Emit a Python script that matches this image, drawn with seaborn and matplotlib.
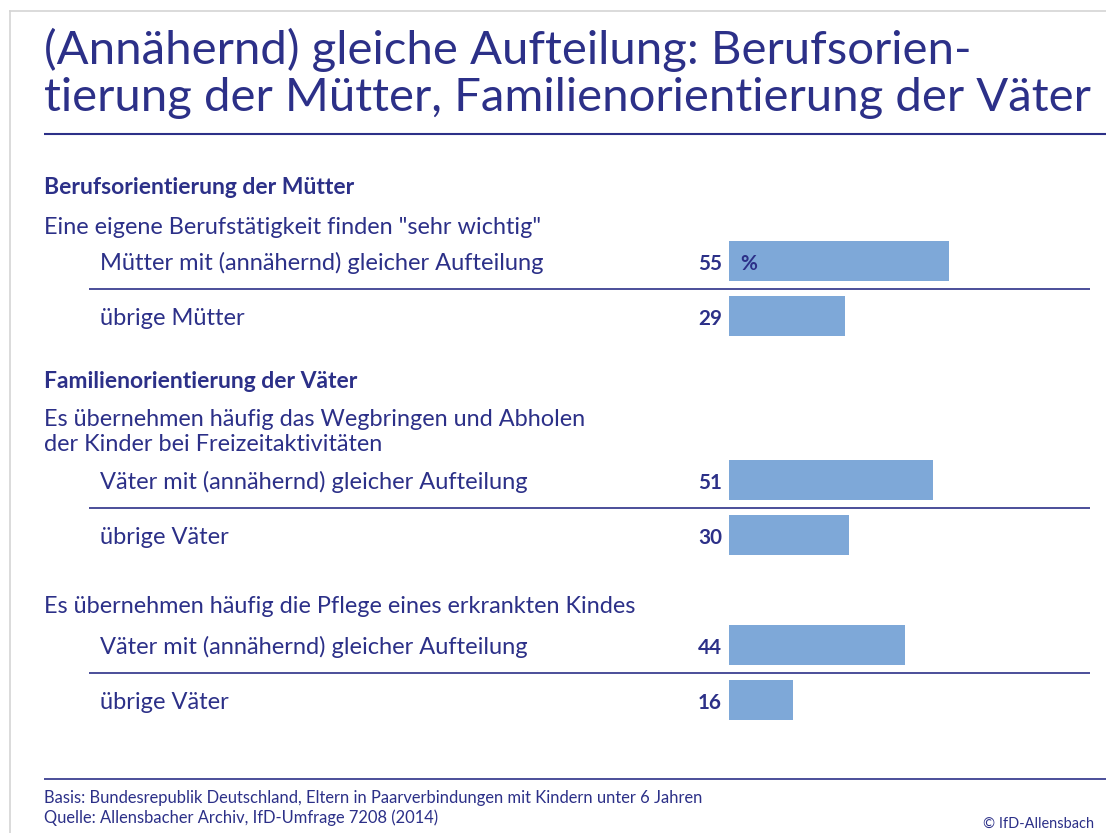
import matplotlib
matplotlib.use("Agg")
import matplotlib.pyplot as plt
from matplotlib import font_manager
from matplotlib.lines import Line2D
import seaborn as sns
import pandas as pd

# ---------------- data ----------------
title_lines = ["(Annähernd) gleiche Aufteilung: Berufsorien-",
               "tierung der Mütter, Familienorientierung der Väter"]
section_headings = ["Berufsorientierung der Mütter", "Familienorientierung der Väter"]
questions = ['Eine eigene Berufstätigkeit finden "sehr wichtig"',
             "Es übernehmen häufig das Wegbringen und Abholen\nder Kinder bei Freizeitaktivitäten",
             "Es übernehmen häufig die Pflege eines erkrankten Kindes"]
group1_labels = ["Mütter mit (annähernd) gleicher Aufteilung", "übrige Mütter"]
group1_values = [55, 29]
group2_labels = ["Väter mit (annähernd) gleicher Aufteilung", "übrige Väter"]
group2_values = [51, 30]
group3_labels = ["Väter mit (annähernd) gleicher Aufteilung", "übrige Väter"]
group3_values = [44, 16]
unit_label = "%"
footnotes = ["Basis: Bundesrepublik Deutschland, Eltern in Paarverbindungen mit Kindern unter 6 Jahren",
             "Quelle: Allensbacher Archiv, IfD-Umfrage 7208 (2014)"]
copyright_text = "© IfD-Allensbach"

# ---------------- style ----------------
W, H = 1106, 833
DARK = "#2c3088"
BAR = "#7ea8d8"
GREY = "#d4d4d4"

sns.set_theme(style="white")
names = {f.name for f in font_manager.fontManager.ttflist}


def pick(cands):
    for c in cands:
        if c in names:
            return c
    return "DejaVu Sans"


TITLE_FONT = pick(["Lato", "Roboto", "Open Sans"])
BODY_FONT = pick(["Lato", "Open Sans", "Roboto"])
plt.rcParams["font.family"] = [BODY_FONT, "DejaVu Sans"]

fig = plt.figure(figsize=(W / 100, H / 100), dpi=100)
fig.patch.set_facecolor("white")
renderer = fig.canvas.get_renderer()


def fx(x):
    return x / W


def fy(y):
    return 1 - y / H


def fit_size(s, target_w, **kw):
    base = 20
    t = fig.text(0, 0, s, fontsize=base, **kw)
    w = t.get_window_extent(renderer).width
    t.remove()
    return base * target_w / w


def put(x, y, s, size, ha="left", **kw):
    fig.text(fx(x), fy(y), s, fontsize=size, ha=ha, va="baseline", color=DARK, **kw)


def hline(x0, x1, y, lw, color=DARK):
    fig.add_artist(Line2D([fx(x0), fx(x1)], [fy(y), fy(y)], transform=fig.transFigure,
                          color=color, lw=lw, solid_capstyle="butt"))


# frame border (left & top)
fig.add_artist(Line2D([fx(9.5), fx(9.5)], [fy(11), fy(H)], transform=fig.transFigure, color=GREY, lw=1.2))
hline(9, W, 11, 1.2, GREY)

# title
title_kw = dict(family=[TITLE_FONT, "DejaVu Sans"], weight="normal")
ts = fit_size(title_lines[1], 1052, **title_kw)
put(44, 64, title_lines[0], ts, **title_kw)
put(44, 111, title_lines[1], ts, **title_kw)
hline(44, W, 134, 1.5)

# text sizes
head_kw = dict(weight="bold")
hs = fit_size(section_headings[1], 313, **head_kw)
bs = fit_size(questions[2], 594)
rs = fit_size(group1_labels[0], 446)
fs = fit_size(footnotes[0], 662)
cs = fit_size(copyright_text, 111)
vs = fit_size("55", 24, weight="bold")

# headings & questions
put(44, 194, section_headings[0], hs, **head_kw)
put(44, 234, questions[0], bs)
put(44, 388, section_headings[1], hs, **head_kw)
q2 = questions[1].split("\n")
put(44, 426, q2[0], bs)
put(44, 451, q2[1], bs)
put(44, 613, questions[2], bs)

# bars
groups = [(group1_labels, group1_values, 261),
          (group2_labels, group2_values, 480),
          (group3_labels, group3_values, 645)]
STEP = 55
BAR_H = 40
X0, X1 = 729, 1089
PX_PER_UNIT = 4.0
for gi, (labels, values, c0) in enumerate(groups):
    top = c0 - STEP / 2
    bottom = top + 2 * STEP
    ax = fig.add_axes([fx(X0), fy(bottom), fx(X1) - fx(X0), (bottom - top) / H])
    df = pd.DataFrame({"label": [f"{i}" for i in range(len(labels))], "value": values})
    sns.barplot(data=df, x="value", y="label", orient="h", color=BAR, width=BAR_H / STEP,
                saturation=1, ax=ax, edgecolor="none")
    ax.set_xlim(0, (X1 - X0) / PX_PER_UNIT)
    ax.set_ylim(1.5, -0.5)
    ax.axis("off")
    for i, (lab, v) in enumerate(zip(labels, values)):
        yb = i + 9 / STEP
        ax.text(-7 / PX_PER_UNIT, yb, f"{v}", ha="right", va="baseline", fontsize=vs,
                weight="bold", color=DARK)
        put(100, c0 + i * STEP + 9, lab, rs)
        if gi == 0 and i == 0:
            ax.text(11 / PX_PER_UNIT, yb, unit_label, ha="left", va="baseline", fontsize=vs,
                    weight="bold", color=DARK)
    # separator between the two bars
    hline(89, 1090, c0 + STEP / 2 + 0.5, 1.2)

# footer
hline(44, W, 779, 1.2)
put(44, 803, footnotes[0], fs)
put(44, 823, footnotes[1], fs)
put(1094, 828, copyright_text, cs, ha="right")

fig.savefig("out.png", dpi=100, facecolor="white")
